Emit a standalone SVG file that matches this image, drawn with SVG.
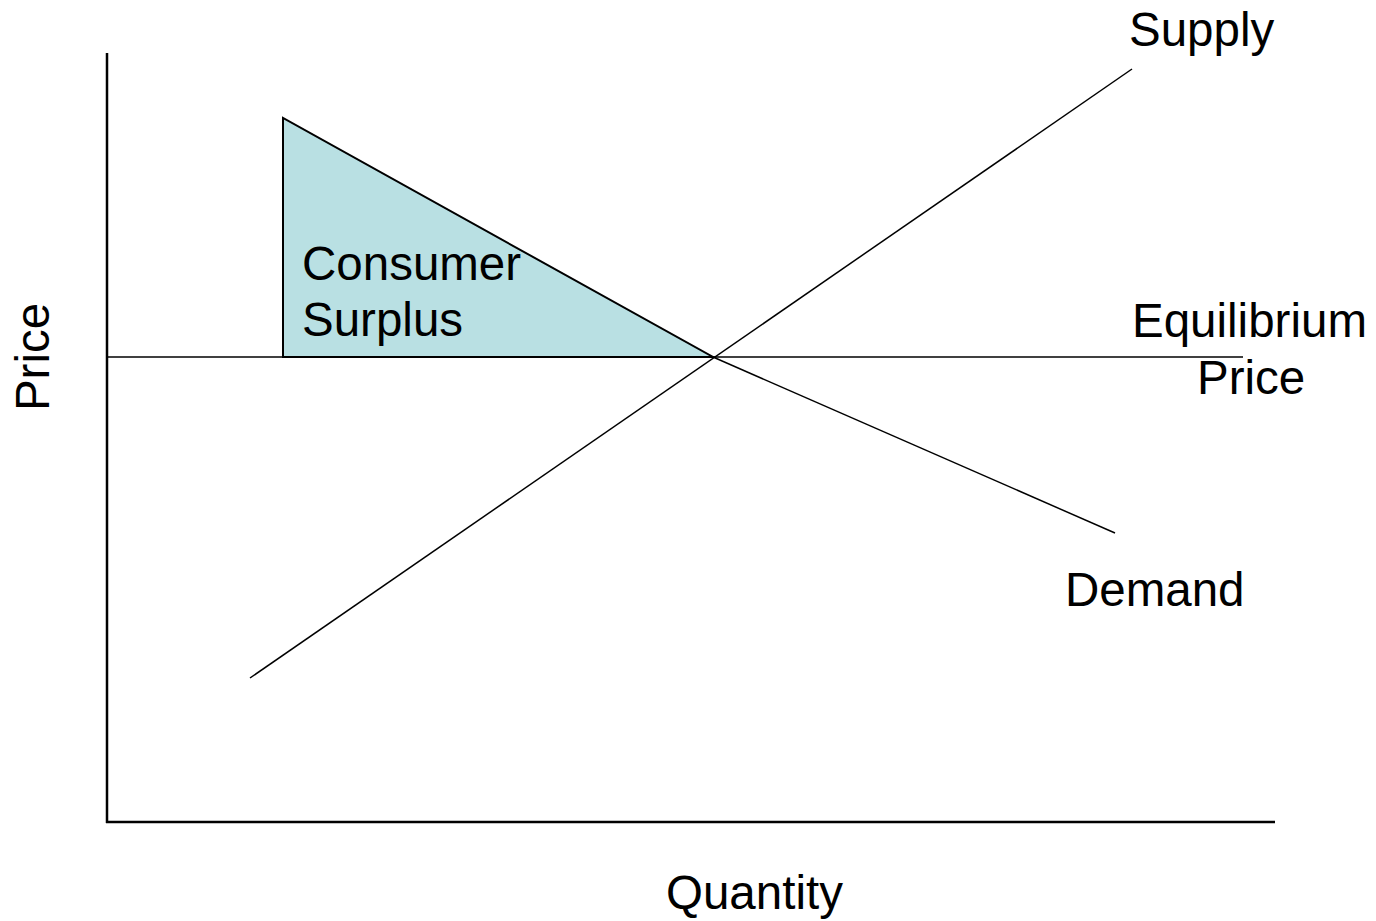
<svg xmlns="http://www.w3.org/2000/svg" width="1376" height="921" viewBox="0 0 1376 921">
<style>
.ln{stroke:#000;stroke-width:1.5;fill:none}
.ax{stroke:#000;stroke-width:2.5;fill:none}
.t{font-family:"Liberation Sans",Arial,sans-serif;font-size:47.5px;fill:#000}
</style>
<rect width="1376" height="921" fill="#fff"/>
<g id="surplus">
<polygon points="283,118 283,357 713,357" fill="#b9e0e3" stroke="#000" stroke-width="2"/>
<text class="t" x="302" y="280">Consumer</text>
<text class="t" x="302" y="336">Surplus</text>
</g>
<g id="connectors">
<line class="ax" x1="107" y1="53" x2="107" y2="823"/>
<line class="ax" x1="106" y1="822" x2="1275" y2="822"/>
<line class="ln" x1="107" y1="357" x2="1243" y2="357"/>
<line class="ln" x1="250" y1="678" x2="1132" y2="69"/>
<line class="ln" x1="713" y1="357" x2="1115" y2="533"/>
</g>
<g id="labels">
<text class="t" x="1129" y="46">Supply</text>
<text class="t" x="1132" y="337">Equilibrium</text>
<text class="t" x="1197" y="394">Price</text>
<text class="t" x="1065" y="606">Demand</text>
<text class="t" x="666" y="909">Quantity</text>
<text class="t" transform="translate(49,357) rotate(-90)" text-anchor="middle">Price</text>
</g>
</svg>
